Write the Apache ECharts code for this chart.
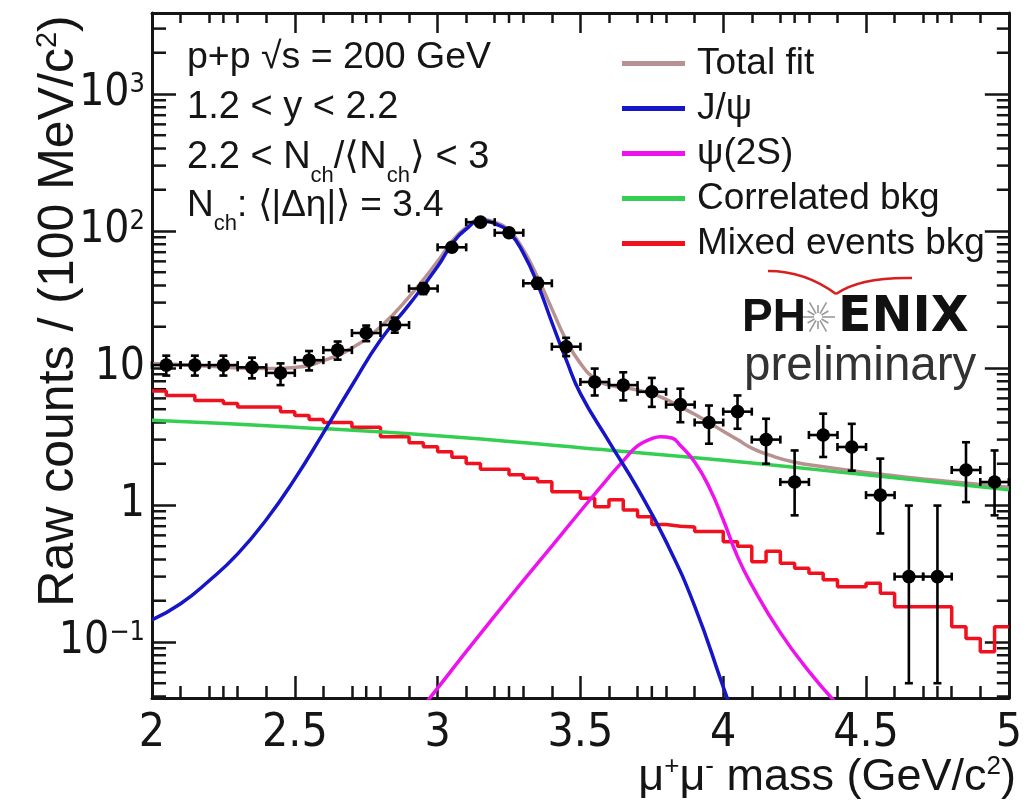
<!DOCTYPE html>
<html><head><meta charset="utf-8">
<script src="https://cdn.jsdelivr.net/npm/echarts@6/dist/echarts.min.js"></script>
<style>html,body{margin:0;padding:0;background:#fff}#chart{width:1025px;height:804px}</style>
</head><body><div id="chart"></div>
<script>
// ---------- data ----------
const massBins = [2.05,2.15,2.25,2.35,2.45,2.55,2.65,2.75,2.85,2.95,3.05,3.15,3.25,3.35,3.45,3.55,3.65,3.75,3.85,3.95,4.05,4.15,4.25,4.35,4.45,4.55,4.65,4.75,4.85,4.95];
const counts = [10.5,10.5,10.5,10.1,9.2,11.4,13.5,18,20.6,38,76,116,97,41.5,14.3,7.9,7.5,6.7,5.4,4.0,4.8,3.0,1.47,3.24,2.65,1.18,0.30,0.30,1.8,1.47];
const countErrLow  = [1.7,1.7,1.7,1.7,1.7,1.8,2.0,2.3,2.5,3.4,4.8,6.0,5.5,3.6,2.1,1.6,1.7,1.5,1.38,1.2,1.2,1.0,0.63,1.0,0.87,0.56,0.25,0.25,0.75,0.63];
const countErrHigh = [1.8,1.8,1.8,1.8,1.6,1.9,2.1,2.4,2.7,3.6,5.0,6.3,5.8,3.8,2.3,2.0,1.8,1.76,1.66,1.32,1.5,1.26,1.03,1.4,1.26,1.0,0.69,0.69,1.07,1.03];
const binHalfWidth = 0.05;

const totalMass = [2.0,2.1,2.2,2.3,2.4,2.5,2.6,2.7,2.8,2.9,3.0,3.05,3.1,3.15,3.2,3.25,3.3,3.35,3.4,3.45,3.5,3.55,3.6,3.7,3.75,3.8,3.85,3.9,3.95,4.0,4.05,4.1,4.16,4.25,4.35,4.45,4.57,4.7,4.81,4.9,5.0];
const totalFit  = [10.8,10.6,10.3,10.0,9.9,10.1,11.3,14,20,33,60,84,106,121,116,101,73,46,27,16,10.8,8.4,7.5,6.9,6.5,5.9,5.2,4.6,4.0,3.45,3.0,2.6,2.32,2.05,1.9,1.78,1.66,1.55,1.47,1.41,1.35];

const jpsiMass = [2.0,2.1,2.2,2.3,2.4,2.5,2.6,2.7,2.8,2.9,3.0,3.05,3.1,3.15,3.2,3.25,3.3,3.35,3.4,3.45,3.5,3.6,3.7,3.8,3.9,4.0,4.05];
const jpsiFit  = [0.145,0.19,0.28,0.44,0.78,1.55,3.36,7.45,16,29,55,80,103,119,113,98,69,41,21.5,11.5,6.5,2.9,1.32,0.54,0.183,0.047,0.024];

const psi2sMass = [2.95,3.0,3.1,3.2,3.3,3.4,3.5,3.6,3.65,3.7,3.75,3.78,3.82,3.85,3.9,3.95,4.0,4.05,4.1,4.2,4.3,4.4];
const psi2sFit  = [0.034,0.046,0.085,0.155,0.28,0.5,0.9,1.6,2.1,2.7,3.05,3.15,3.08,2.72,2.06,1.36,0.78,0.42,0.26,0.117,0.061,0.035];

const corrMass = [2.0,2.5,3.0,3.5,4.0,4.5,5.0];
const corrFit  = [4.15,3.7,3.2,2.62,2.12,1.66,1.29];

// mixed-event histogram: 60 bins of 0.05 from 2.0 to 5.0
const mixedBinStart = 2.0, mixedBinWidth = 0.05;
const mixedBkg = [6.8,6.3,6.3,5.8,5.8,5.5,5.2,5.2,5.2,4.8,
                  4.5,4.2,4.0,4.0,3.7,3.7,3.15,3.15,2.85,2.66,
                  2.45,2.23,2.01,1.82,1.82,1.66,1.57,1.48,1.25,1.25,
                  1.12,0.97,1.09,0.92,0.82,0.72,0.70,0.69,0.64,0.64,
                  0.54,0.50,0.385,0.46,0.375,0.345,0.317,0.284,0.253,0.253,
                  0.268,0.227,0.181,0.181,0.181,0.181,0.129,0.106,0.085,0.129];

const legendNames = ['Total fit','J/ψ','ψ(2S)','Correlated bkg','Mixed events bkg'];
const xTicksExtra = [2.25,2.75,3.25,3.75,4.25,4.75];
const X_MIN = 2, X_MAX = 5, Y_MIN = 0.039, Y_MAX = 3900;

// ---------- build ----------
const pairs = (xs, ys) => xs.map((x,i)=>[x, ys[i]]);
const mixedData = mixedBkg.map((v,i)=>[+(mixedBinStart + i*mixedBinWidth).toFixed(2), v]);
mixedData.push([X_MAX, mixedBkg[mixedBkg.length-1]]);

const yMinorTicks = [];
for (let d=-2; d<=3; d++) for (let k=2; k<=9; k++) { const v = +(k*Math.pow(10,d)).toPrecision(3); if (v>Y_MIN && v<Y_MAX) yMinorTicks.push(v); }

const NARROW = '"Liberation Sans Narrow","DejaVu Sans Condensed","Liberation Sans",sans-serif';
const SANS = '"Liberation Sans",Arial,sans-serif';
const INK = '#151515';

const chart = echarts.init(document.getElementById('chart'), null, {renderer:'canvas'});

const frameLine = {show:true, lineStyle:{color:INK, width:3}};
const tickStyle = {color:INK, width:2.5};
const curve = (name, xs, ys, color, z) => ({
  name, type:'line', data:pairs(xs,ys), smooth:0.5,
  showSymbol:false, symbol:'none', lineStyle:{color, width:3.5}, itemStyle:{color}, z
});

const option = {
  animation:false,
  backgroundColor:'#fff',
  grid:{left:152, right:8, top:13, bottom:106, containLabel:false},
  legend:{
    orient:'vertical', left:617, top:39, itemWidth:63, itemHeight:5, itemGap:6,
    icon:'rect', selectedMode:false, data:legendNames,
    textStyle:{fontSize:37, fontFamily:SANS, color:INK, lineHeight:39, padding:[0,0,0,7]}
  },
  xAxis:[
    {type:'value', min:X_MIN, max:X_MAX, interval:0.5, position:'bottom',
     axisLine:frameLine,
     axisTick:{show:true, inside:true, length:22, lineStyle:tickStyle},
     minorTick:{show:true, splitNumber:5, length:12, lineStyle:tickStyle},
     axisLabel:{fontSize:46, fontFamily:NARROW, color:INK, margin:13},
     splitLine:{show:false}},
    {type:'value', min:X_MIN, max:X_MAX, interval:0.5, position:'top',
     axisLine:frameLine,
     axisTick:{show:true, inside:true, length:20, lineStyle:tickStyle},
     minorTick:{show:true, splitNumber:5, length:10, lineStyle:tickStyle},
     axisLabel:{show:false}, splitLine:{show:false}}
  ],
  yAxis:[
    {type:'log', logBase:10, min:Y_MIN, max:Y_MAX, position:'left',
     axisLine:frameLine,
     axisTick:{show:true, inside:true, length:24, lineStyle:tickStyle},
     axisLabel:{margin:7, showMinLabel:false, showMaxLabel:false,
       formatter:function(v){
         const l = Math.log10(v), e = Math.round(l);
         if (Math.abs(l-e) > 1e-6) return '';
         if (e===0) return '{n|1}';
         if (e===1) return '{n|10}';
         return '{n|10}{s|' + (e<0?'−':'') + Math.abs(e) + '}';
       },
       rich:{
         n:{fontSize:44, fontFamily:NARROW, color:INK, lineHeight:44, verticalAlign:'middle'},
         s:{fontSize:27, fontFamily:NARROW, color:INK, lineHeight:27, verticalAlign:'top'}
       }},
     splitLine:{show:false}, minorTick:{show:false}},
    {type:'log', logBase:10, min:Y_MIN, max:Y_MAX, position:'right',
     axisLine:frameLine,
     axisTick:{show:true, inside:true, length:24, lineStyle:tickStyle},
     axisLabel:{show:false}, splitLine:{show:false}}
  ],
  series:[
    curve('Total fit', totalMass, totalFit, '#b89290', 2),
    {name:'Mixed events bkg', type:'line', data:mixedData, step:'end',
     showSymbol:false, symbol:'none', lineStyle:{color:'#f0101e', width:3.5}, itemStyle:{color:'#f0101e'}, z:3},
    curve('Correlated bkg', corrMass, corrFit, '#34cf52', 4),
    curve('ψ(2S)', psi2sMass, psi2sFit, '#ee12ee', 5),
    curve('J/ψ', jpsiMass, jpsiFit, '#1616c8', 6),
    {name:'Data', type:'custom', z:10,
     data:massBins.map((m,i)=>[m, counts[i], countErrLow[i], countErrHigh[i]]),
     encode:{x:0, y:1},
     renderItem:function(params, api){
       const x=api.value(0), y=api.value(1), el=api.value(2), eh=api.value(3);
       const c=api.coord([x,y]);
       const yTop=api.coord([x,y+eh])[1];
       const lowClipped = (y-el) <= Y_MIN;
       const yBot=api.coord([x,Math.max(y-el,Y_MIN)])[1];
       const xl=api.coord([x-binHalfWidth,y])[0], xr=api.coord([x+binHalfWidth,y])[0];
       const st={stroke:'#000', lineWidth:2.6};
       const cap=4;
       const ch=[
         {type:'line', shape:{x1:c[0],y1:yTop,x2:c[0],y2:yBot}, style:st},
         {type:'line', shape:{x1:xl,y1:c[1],x2:xr,y2:c[1]}, style:st},
         {type:'line', shape:{x1:c[0]-cap,y1:yTop,x2:c[0]+cap,y2:yTop}, style:st},
         {type:'line', shape:{x1:xl,y1:c[1]-cap,x2:xl,y2:c[1]+cap}, style:st},
         {type:'line', shape:{x1:xr,y1:c[1]-cap,x2:xr,y2:c[1]+cap}, style:st},
         {type:'circle', shape:{cx:c[0],cy:c[1],r:6.8}, style:{fill:'#000'}}
       ];
       if (!lowClipped) ch.push({type:'line', shape:{x1:c[0]-cap,y1:yBot,x2:c[0]+cap,y2:yBot}, style:st});
       return {type:'group', children:ch};
     }},
    {name:'frameTicks', type:'custom', z:1, silent:true,
     data: yMinorTicks.map(v=>[X_MIN, v, 0]).concat(xTicksExtra.map(v=>[v, Y_MIN, 1])),
     encode:{x:0, y:1},
     renderItem:function(params, api){
       const kind=api.value(2);
       const st={stroke:INK, lineWidth:2.5};
       if (kind===0){
         const v=api.value(1);
         const p=api.coord([X_MIN,v]), q=api.coord([X_MAX,v]);
         return {type:'group', children:[
           {type:'line', shape:{x1:p[0],y1:p[1],x2:p[0]+14,y2:p[1]}, style:st},
           {type:'line', shape:{x1:q[0]-12,y1:q[1],x2:q[0],y2:q[1]}, style:st}]};
       }
       const v=api.value(0);
       const p=api.coord([v,Y_MIN]), q=api.coord([v,Y_MAX]);
       return {type:'group', children:[
         {type:'line', shape:{x1:p[0],y1:p[1],x2:p[0],y2:p[1]-12}, style:st},
         {type:'line', shape:{x1:q[0],y1:q[1],x2:q[0],y2:q[1]+10}, style:st}]};
     }}
  ],
  graphic:[
    // axis titles
    {type:'text', x:1016, y:778, z:20, style:{
      text:'{a|μ}{s|+}{a|μ}{s|-}{a| mass (GeV/c}{s|2}{a|)}', align:'right', verticalAlign:'middle',
      rich:{a:{fontSize:45, fontFamily:SANS, fill:INK, lineHeight:48, verticalAlign:'middle'},
            s:{fontSize:26, fontFamily:SANS, fill:INK, lineHeight:26, verticalAlign:'top'}}}},
    {type:'text', x:59, y:311, rotation:Math.PI/2, z:20, style:{
      text:'{a|Raw counts / (100 MeV/c}{s|2}{a|)}', align:'center', verticalAlign:'middle',
      rich:{a:{fontSize:50, fontFamily:SANS, fill:INK, lineHeight:52, verticalAlign:'middle'},
            s:{fontSize:29, fontFamily:SANS, fill:INK, lineHeight:29, verticalAlign:'top'}}}},
    // annotations
    {type:'text', x:187, y:58, z:20, style:{text:'{n|p+p √s = 200 GeV}', align:'left', verticalAlign:'middle',
      rich:{n:{fontSize:37.5, fontFamily:SANS, fill:INK, lineHeight:40}}}},
    {type:'text', x:187, y:108, z:20, style:{text:'{n|1.2 < y < 2.2}', align:'left', verticalAlign:'middle',
      rich:{n:{fontSize:38, fontFamily:SANS, fill:INK, lineHeight:40}}}},
    {type:'text', x:187, y:158, z:20, style:{text:'{n|2.2 < N}{b|ch}{n|/⟨N}{b|ch}{n|⟩ < 3}', align:'left', verticalAlign:'middle',
      rich:{n:{fontSize:38, fontFamily:SANS, fill:INK, lineHeight:57, verticalAlign:'middle'},
            b:{fontSize:22, fontFamily:SANS, fill:INK, lineHeight:22, verticalAlign:'bottom'}}}},
    {type:'text', x:187, y:206, z:20, style:{text:'{n|N}{b|ch}{n|: ⟨|Δη|⟩ = 3.4}', align:'left', verticalAlign:'middle',
      rich:{n:{fontSize:37, fontFamily:SANS, fill:INK, lineHeight:57, verticalAlign:'middle'},
            b:{fontSize:22, fontFamily:SANS, fill:INK, lineHeight:22, verticalAlign:'bottom'}}}},
    // PHENIX logo
    {type:'bezierCurve', z:20, shape:{x1:768,y1:271,cpx1:805,cpy1:271,x2:836,y2:294}, style:{stroke:'#d81e1e', lineWidth:2.5, fill:null}},
    {type:'bezierCurve', z:20, shape:{x1:836,y1:294,cpx1:860,cpy1:277,x2:912,y2:278}, style:{stroke:'#d81e1e', lineWidth:2.5, fill:null}},
    {type:'text', x:742, y:318, z:20, style:{text:'PH', font:'bold 46px '+SANS, fill:'#111', align:'left', verticalAlign:'middle'}},
    {type:'text', x:838, y:318, z:20, style:{text:'ENIX', font:'bold 49px "DejaVu Sans",sans-serif', fill:'#111', align:'left', verticalAlign:'middle'}},
    {type:'text', x:744, y:367, z:20, style:{text:'preliminary', font:'47.5px '+SANS, fill:'#333', align:'left', verticalAlign:'middle'}},
    {type:'group', x:818, y:317, z:20, children:[0,1,2,3,4,5,6,7,8,9,10,11].map(k=>({
      type:'line', shape:{x1:4*Math.cos(k*Math.PI/6), y1:4*Math.sin(k*Math.PI/6), x2:(k%2?12:17)*Math.cos(k*Math.PI/6), y2:(k%2?12:17)*Math.sin(k*Math.PI/6)},
      style:{stroke:'#999', lineWidth:1.6}}))}
  ]
};
chart.setOption(option);
</script></body></html>
